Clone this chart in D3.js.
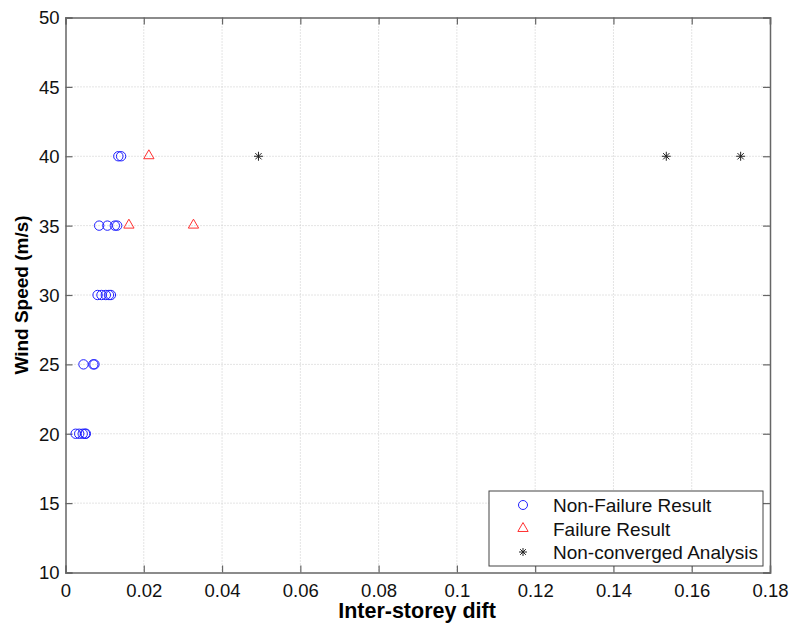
<!DOCTYPE html>
<html>
<head>
<meta charset="utf-8">
<script src="https://cdn.jsdelivr.net/npm/d3@7"></script>
<style>
  body { margin: 0; background: #fff; }
  svg text { font-family: "Liberation Sans", Arial, sans-serif; }
</style>
</head>
<body>
<div id="chart"></div>
<script>
// data
var nonFailDrift = [0.0026, 0.0035, 0.0044, 0.0050, 0.0052,
                    0.0046, 0.0071, 0.0074,
                    0.0082, 0.0092, 0.0103, 0.0111, 0.0116,
                    0.0086, 0.0107, 0.0126, 0.0132,
                    0.0135, 0.0142];
var nonFailSpeed = [20, 20, 20, 20, 20,
                    25, 25, 25,
                    30, 30, 30, 30, 30,
                    35, 35, 35, 35,
                    40, 40];
var failDrift = [0.0213, 0.0162, 0.0327];
var failSpeed = [40, 35, 35];
var nonConvDrift = [0.0493, 0.1535, 0.1725];
var nonConvSpeed = [40, 40, 40];
var xTicks = [0, 0.02, 0.04, 0.06, 0.08, 0.1, 0.12, 0.14, 0.16, 0.18];
var yTicks = [10, 15, 20, 25, 30, 35, 40, 45, 50];
var legendLabels = ["Non-Failure Result", "Failure Result", "Non-converged Analysis"];

var W = 790, H = 626;
var margin = { top: 17.5, right: 20, bottom: 53.5, left: 65.5 },
    width = W - margin.left - margin.right,
    height = H - margin.top - margin.bottom;

var svg = d3.select("#chart").append("svg")
    .attr("width", W).attr("height", H)
    .append("g")
    .attr("transform", "translate(" + margin.left + "," + margin.top + ")");

var x = d3.scaleLinear().domain([0, 0.18]).range([0, width]);
var y = d3.scaleLinear().domain([10, 50]).range([height, 0]);

// grid
svg.append("g").selectAll("line").data(xTicks.slice(1, -1)).enter().append("line")
    .attr("x1", d => x(d)).attr("x2", d => x(d))
    .attr("y1", 0).attr("y2", height)
    .attr("stroke", "#c8c8c8").attr("stroke-width", 1).attr("stroke-dasharray", "1,2");
svg.append("g").selectAll("line").data(yTicks.slice(1, -1)).enter().append("line")
    .attr("y1", d => y(d)).attr("y2", d => y(d))
    .attr("x1", 0).attr("x2", width)
    .attr("stroke", "#c8c8c8").attr("stroke-width", 1).attr("stroke-dasharray", "1,2");

// axes (ticks pointing inward like matlab)
var axColor = "#666";
var fmt = d => (d === 0 ? "0" : d3.format("")(+d.toFixed(2)));
var xb = svg.append("g").attr("transform", "translate(0," + height + ")")
    .call(d3.axisBottom(x).tickValues(xTicks).tickSize(-7).tickPadding(11).tickFormat(fmt));
var xt = svg.append("g")
    .call(d3.axisTop(x).tickValues(xTicks).tickSize(-7).tickFormat(""));
var yl = svg.append("g")
    .call(d3.axisLeft(y).tickValues(yTicks).tickSize(-7).tickPadding(6));
var yr = svg.append("g").attr("transform", "translate(" + width + ",0)")
    .call(d3.axisRight(y).tickValues(yTicks).tickSize(-7).tickFormat(""));
[xb, xt, yl, yr].forEach(function (g) {
    g.select(".domain").attr("stroke", axColor).attr("stroke-width", 1.5);
    g.selectAll(".tick line").attr("stroke", axColor).attr("stroke-width", 1.2);
    g.selectAll("text").attr("fill", "#111").style("font-size", "18.5px");
});
yl.selectAll("text").attr("dy", "0.35em");

// axis labels
svg.append("text")
    .attr("x", 417 - margin.left).attr("y", 618 - margin.top)
    .attr("text-anchor", "middle")
    .style("font-size", "21.5px").style("font-weight", "bold")
    .text("Inter-storey dift");
svg.append("text")
    .attr("transform", "translate(" + (27.5 - margin.left) + "," + (height / 2) + ") rotate(-90)")
    .attr("text-anchor", "middle")
    .style("font-size", "19px").style("font-weight", "bold")
    .text("Wind Speed (m/s)");

// markers
var plot = svg.append("g");
plot.selectAll("circle").data(d3.zip(nonFailDrift, nonFailSpeed)).enter().append("circle")
    .attr("cx", d => x(d[0])).attr("cy", d => y(d[1])).attr("r", 4.7)
    .attr("fill", "none").attr("stroke", "#2020ff").attr("stroke-width", 1);

var tri = d3.symbol().type(d3.symbolTriangle).size(46);
plot.selectAll("path.tri").data(d3.zip(failDrift, failSpeed)).enter().append("path")
    .attr("class", "tri")
    .attr("d", tri)
    .attr("transform", d => "translate(" + x(d[0]) + "," + (y(d[1]) - 0.5) + ")")
    .attr("fill", "none").attr("stroke", "#ff3030").attr("stroke-width", 1);

function star(g, cx, cy, r) {
    for (var k = 0; k < 4; k++) {
        var a = k * Math.PI / 4;
        g.append("line")
            .attr("x1", cx - r * Math.cos(a)).attr("y1", cy - r * Math.sin(a))
            .attr("x2", cx + r * Math.cos(a)).attr("y2", cy + r * Math.sin(a))
            .attr("stroke", "#222").attr("stroke-width", 1);
    }
}
d3.zip(nonConvDrift, nonConvSpeed).forEach(function (d) {
    star(plot, x(d[0]), y(d[1]), 4.5);
});

// legend
var lg = svg.append("g").attr("transform", "translate(" + (489 - margin.left) + "," + (491 - margin.top) + ")");
lg.append("rect").attr("width", 274).attr("height", 75)
    .attr("fill", "#fff").attr("stroke", "#444").attr("stroke-width", 1);
var rows = [14, 38, 61];
legendLabels.forEach(function (lab, i) {
    lg.append("text").attr("x", 64).attr("y", rows[i]).attr("dy", "0.35em")
        .style("font-size", "19px").attr("fill", "#111").text(lab);
});
lg.append("circle").attr("cx", 34).attr("cy", rows[0]).attr("r", 4.5)
    .attr("fill", "none").attr("stroke", "#2020ff");
lg.append("path").attr("d", tri)
    .attr("transform", "translate(34," + (rows[1] - 0.5) + ")")
    .attr("fill", "none").attr("stroke", "#ff3030");
star(lg, 34, rows[2], 4);
</script>
</body>
</html>
